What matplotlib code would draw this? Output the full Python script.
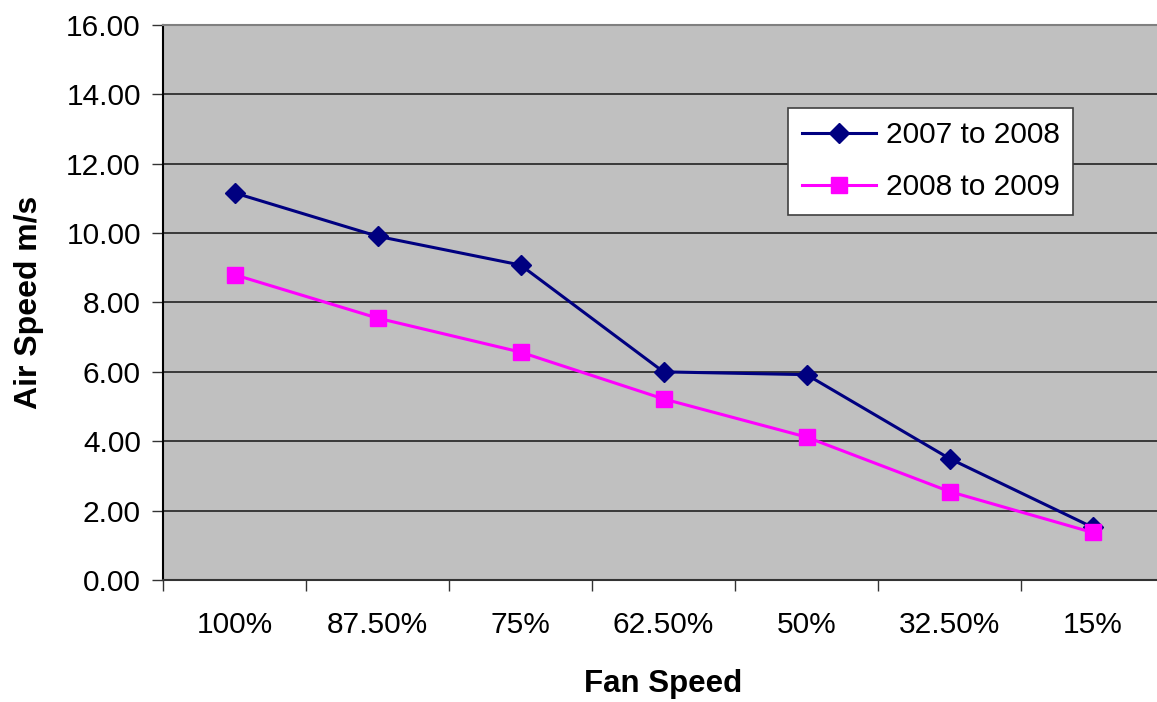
import numpy as np
import matplotlib.pyplot as plt

plt.rcParams['font.family'] = ['Liberation Sans', 'DejaVu Sans']

# fan speed settings and measured air speeds
fan_speed = ['100%', '87.50%', '75%', '62.50%', '50%', '32.50%', '15%']
speed_0708 = [11.16, 9.91, 9.08, 6.00, 5.92, 3.50, 1.52]
speed_0809 = [8.80, 7.55, 6.57, 5.22, 4.12, 2.55, 1.37]
y_ticks = np.arange(0, 17, 2)

fig = plt.figure(figsize=(11.57, 7.02), dpi=100)
ax = fig.add_axes([0.1409, 0.1738, 0.8652, 0.7906])

x = np.arange(len(fan_speed))
ax.set_facecolor('#C0C0C0')

ax.plot(x, speed_0708, color='#000080', linewidth=2.2, marker='D',
        markersize=10.5, label='2007 to 2008', zorder=3)
ax.plot(x, speed_0809, color='#FF00FF', linewidth=2.2, marker='s',
        markersize=12, label='2008 to 2009', zorder=3)

ax.set_xlim(-0.5, len(fan_speed) - 0.5)
ax.set_ylim(0, 16)

# ticks sit between categories, labels at the centres
ax.set_xticks(np.arange(-0.5, len(fan_speed), 1.0))
ax.set_xticklabels([])
ax.set_xticks(x, minor=True)
ax.set_xticklabels(fan_speed, minor=True, fontsize=21.5)
ax.tick_params(axis='x', which='minor', length=0, pad=22)
ax.tick_params(axis='x', which='major', length=8, width=1, color='#333333')

ax.set_yticks(y_ticks)
ax.set_yticklabels(['%.2f' % v for v in y_ticks], fontsize=21.5)
ax.tick_params(axis='y', length=8, width=1, pad=8, color='#333333')

ax.yaxis.grid(True, color='#222222', linewidth=1.2)
ax.set_axisbelow(True)

ax.spines['left'].set_color('black')
ax.spines['left'].set_linewidth(1.5)
ax.spines['bottom'].set_color('#333333')
ax.spines['bottom'].set_linewidth(1.5)
ax.spines['top'].set_color('#808080')
ax.spines['top'].set_linewidth(1.5)
ax.spines['right'].set_visible(False)

ax.set_xlabel('Fan Speed', fontsize=22.5, fontweight='bold', labelpad=22)
ax.set_ylabel('Air Speed m/s', fontsize=23, fontweight='bold', labelpad=16)

leg = ax.legend(loc='upper left', bbox_to_anchor=(0.6244, 0.8505),
                fontsize=21.5, fancybox=False, framealpha=1,
                edgecolor='#404040', borderpad=0.45, handlelength=2.5,
                handletextpad=0.33, labelspacing=0.8, borderaxespad=0)
leg.get_frame().set_linewidth(1.2)

fig.savefig('out.png', dpi=100)
